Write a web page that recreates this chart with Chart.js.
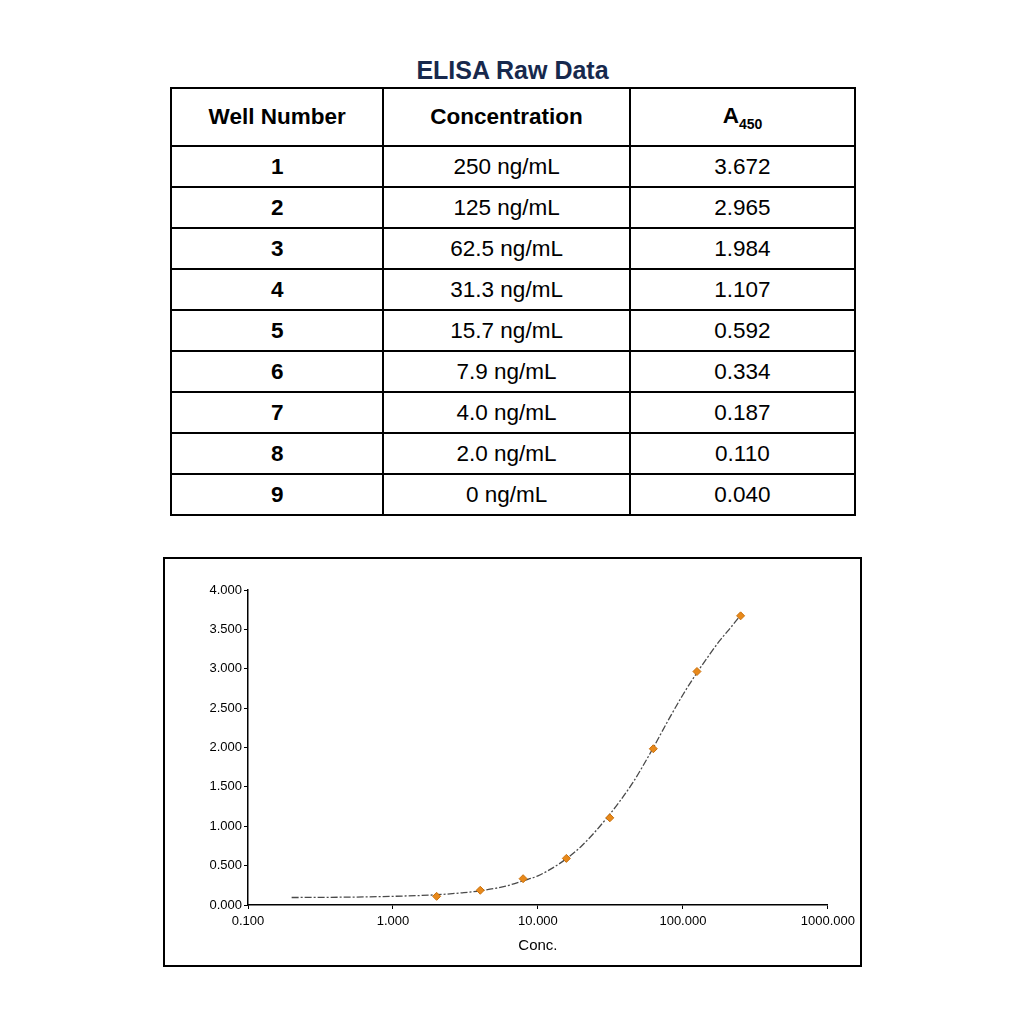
<!DOCTYPE html>
<html lang="en">
<head>
    <meta charset="UTF-8">
    <title>ELISA Raw Data</title>
    <style>
        * {
            margin: 0;
            padding: 0;
            box-sizing: border-box;
        }

        body {
            width: 1024px;
            height: 1024px;
            background: #fff;
            position: relative;
            font-family: 'Liberation Sans', Arial, sans-serif;
        }

        .title {
            position: absolute;
            left: 170px;
            top: 56px;
            width: 685px;
            text-align: center;
            font-size: 25px;
            font-weight: bold;
            color: #17294d;
        }

        table {
            position: absolute;
            left: 170px;
            top: 87px;
            width: 686px;
            border-collapse: collapse;
            font-size: 22.5px;
            color: #000;
        }

        td, th {
            border: 2px solid #000;
            text-align: center;
            height: 41px;
        }

        th {
            height: 58px;
            font-weight: bold;
        }

        td:first-child {
            font-weight: bold;
        }

        th sub {
            font-size: 14px;
        }

        .chart-box {
            position: absolute;
            left: 163px;
            top: 557px;
            width: 699px;
            height: 410px;
            border: 2px solid #000;
        }
    </style>
</head>
<body>
    <div class="title">ELISA Raw Data</div>
    <table id="rawTable">
        <colgroup>
            <col style="width: 213px">
            <col style="width: 247px">
            <col style="width: 226px">
        </colgroup>
        <thead>
            <tr><th>Well Number</th><th>Concentration</th><th>A<sub>450</sub></th></tr>
        </thead>
        <tbody></tbody>
    </table>

    <div class="chart-box">
        <canvas id="curveChart" width="695" height="406"></canvas>
    </div>

    <script src="https://cdn.jsdelivr.net/npm/chart.js"></script>
    <script>
        // table data
        var wells = [1, 2, 3, 4, 5, 6, 7, 8, 9];
        var concLabels = ['250', '125', '62.5', '31.3', '15.7', '7.9', '4.0', '2.0', '0'];
        var concValues = [250, 125, 62.5, 31.3, 15.7, 7.9, 4.0, 2.0, 0];
        var absorbance = [3.672, 2.965, 1.984, 1.107, 0.592, 0.334, 0.187, 0.110, 0.040];

        // fitted curve
        var curveX = [0.2, 0.3, 0.5, 1, 2, 3, 4, 6, 8, 10, 15, 20, 30, 45, 60, 80, 100, 125, 150, 180, 215, 250];
        var curveY = [0.095, 0.097, 0.10, 0.11, 0.13, 0.155, 0.18, 0.24, 0.31, 0.37, 0.56, 0.75, 1.11, 1.55, 1.94, 2.36, 2.67, 2.95, 3.16, 3.36, 3.53, 3.68];

        var xTicks = [0.1, 1, 10, 100, 1000];

        var tbody = document.querySelector('#rawTable tbody');
        wells.forEach(function (w, i) {
            var tr = document.createElement('tr');
            tr.innerHTML = '<td>' + w + '</td><td>' + concLabels[i] + ' ng/mL</td><td>' + absorbance[i].toFixed(3) + '</td>';
            tbody.appendChild(tr);
        });

        // 0 ng/mL cannot sit on a log axis
        var points = [];
        concValues.forEach(function (c, i) {
            if (c > 0) points.push({ x: c, y: absorbance[i] });
        });
        var curve = curveX.map(function (x, i) { return { x: x, y: curveY[i] }; });

        var tickFont = { family: "'Liberation Sans', Arial, sans-serif", size: 13 };

        new Chart(document.getElementById('curveChart').getContext('2d'), {
            type: 'scatter',
            data: {
                datasets: [{
                    label: 'Data',
                    data: points,
                    pointStyle: 'rectRot',
                    pointRadius: 4,
                    backgroundColor: '#e8891a',
                    borderColor: '#c9700c',
                    borderWidth: 1,
                    showLine: false
                }, {
                    label: 'Fit',
                    data: curve,
                    showLine: true,
                    pointRadius: 0,
                    borderColor: '#4a4a4a',
                    borderWidth: 1.3,
                    borderDash: [7, 2, 2, 2],
                    cubicInterpolationMode: 'monotone'
                }]
            },
            options: {
                responsive: false,
                animation: false,
                layout: { padding: { top: 31, right: 32, left: 0, bottom: 6 } },
                plugins: { legend: { display: false }, tooltip: { enabled: false } },
                scales: {
                    x: {
                        type: 'logarithmic',
                        min: 0.1,
                        max: 1000,
                        afterBuildTicks: function (scale) {
                            scale.ticks = xTicks.map(function (v) { return { value: v }; });
                        },
                        afterFit: function (scale) { scale.height = 54; },
                        ticks: {
                            color: '#000',
                            font: tickFont,
                            maxRotation: 0,
                            autoSkip: false,
                            padding: 5,
                            callback: function (v) { return Number(v).toFixed(3); }
                        },
                        grid: { drawOnChartArea: false, tickLength: 4, color: '#000' },
                        border: { color: '#000', width: 1.5 },
                        title: {
                            display: true,
                            text: 'Conc.',
                            color: '#000',
                            font: { family: "'Liberation Sans', Arial, sans-serif", size: 15 },
                            padding: { top: 0 }
                        }
                    },
                    y: {
                        min: 0,
                        max: 4,
                        afterFit: function (scale) { scale.width = 83; },
                        ticks: {
                            stepSize: 0.5,
                            color: '#000',
                            font: tickFont,
                            padding: 2,
                            callback: function (v) { return Number(v).toFixed(3); }
                        },
                        grid: { drawOnChartArea: false, tickLength: 4, color: '#000' },
                        border: { color: '#000', width: 1.5 }
                    }
                }
            }
        });
    </script>
</body>
</html>
